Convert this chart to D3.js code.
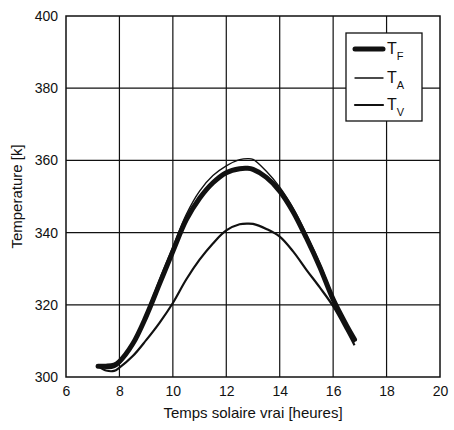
<!DOCTYPE html>
<html><head><meta charset="utf-8">
<script src="https://cdn.jsdelivr.net/npm/d3@7"></script>
<style>body{margin:0;background:#fff}svg{display:block}text,tspan{font-family:"Liberation Sans",Arial,sans-serif;fill:#111}</style>
</head><body>
<svg id="c" width="454" height="430"></svg>
<script>
const hours = [7.2, 7.5, 7.8, 8, 8.5, 9, 9.5, 10, 10.5, 11, 11.5, 12, 12.5, 12.8, 13, 13.5, 14, 14.5, 15, 15.5, 16, 16.5, 16.8];
const TF = [303, 303, 303.3, 304.3, 309.2, 316.8, 325.8, 334.8, 343.5, 349.5, 353.8, 356.6, 357.7, 357.8, 357.5, 355.3, 351.5, 345.8, 338.5, 330.5, 321.5, 314.3, 310.4];
const TA = [303, 302.4, 302.6, 303.6, 309.2, 317.5, 327, 336, 345, 351.5, 355.8, 358.5, 360.2, 360.5, 360.3, 357, 352.6, 346.8, 339.5, 331.5, 322.2, 314, 309.6];
const TV = [303, 301.8, 301.7, 302.6, 305.8, 310.2, 315, 320.5, 327, 332.5, 337, 340.6, 342.3, 342.5, 342.4, 341, 338.9, 334.8, 329.7, 324.8, 319.6, 313, 308.8];
const xTicks = [6, 8, 10, 12, 14, 16, 18, 20];
const yTicks = [300, 320, 340, 360, 380, 400];
const seriesNames = ["F", "A", "V"];

const svg = d3.select("#c");
const m = {l: 66, r: 14, t: 16, b: 53};
const W = 454, H = 430;
const x = d3.scaleLinear().domain([6, 20]).range([m.l, W - m.r]);
const y = d3.scaleLinear().domain([300, 400]).range([H - m.b, m.t]);

// grid
svg.append("g").selectAll("line").data(xTicks.slice(1, -1)).join("line")
  .attr("x1", d => x(d)).attr("x2", d => x(d)).attr("y1", y(300)).attr("y2", y(400))
  .attr("stroke", "#111").attr("stroke-width", 1.2);
svg.append("g").selectAll("line").data(yTicks.slice(1, -1)).join("line")
  .attr("y1", d => y(d)).attr("y2", d => y(d)).attr("x1", x(6)).attr("x2", x(20))
  .attr("stroke", "#111").attr("stroke-width", 1.2);

// axes
const xa = svg.append("g").attr("transform", `translate(0,${y(300)})`)
  .call(d3.axisBottom(x).tickValues(xTicks).tickSize(0).tickPadding(9));
const ya = svg.append("g").attr("transform", `translate(${x(6)},0)`)
  .call(d3.axisLeft(y).tickValues(yTicks).tickSize(0).tickPadding(8));
[xa, ya].forEach(a => { a.select(".domain").remove(); a.selectAll("text").attr("font-size", 14).attr("fill", "#111"); });

svg.append("rect").attr("x", x(6)).attr("y", y(400)).attr("width", x(20) - x(6)).attr("height", y(300) - y(400))
  .attr("fill", "none").attr("stroke", "#111").attr("stroke-width", 1.5);

const line = d3.line().curve(d3.curveCatmullRom.alpha(0.5));
const mk = vals => line(hours.map((h, i) => [x(h), y(vals[i])]));
svg.append("path").attr("d", mk(TV)).attr("fill", "none").attr("stroke", "#111").attr("stroke-width", 2.2);
svg.append("path").attr("d", mk(TF)).attr("fill", "none").attr("stroke", "#111").attr("stroke-width", 5).attr("stroke-linecap", "round");
svg.append("path").attr("d", mk(TA)).attr("fill", "none").attr("stroke", "#111").attr("stroke-width", 1.4);

// legend
const lg = svg.append("g").attr("transform", "translate(346,33)");
lg.append("rect").attr("width", 76).attr("height", 88).attr("fill", "#fff").attr("stroke", "#111").attr("stroke-width", 1.3);
const widths = [5, 1.4, 2.2];
const ly = [16, 45, 72];
seriesNames.forEach((s, i) => {
  lg.append("line").attr("x1", 9).attr("x2", 37).attr("y1", ly[i]).attr("y2", ly[i])
    .attr("stroke", "#111").attr("stroke-width", widths[i]).attr("stroke-linecap", "round");
  const t = lg.append("text").attr("x", 41).attr("y", ly[i] + 5).attr("font-size", 16).attr("fill", "#111");
  t.append("tspan").attr("fill", "#111").text("T");
  t.append("tspan").attr("fill", "#111").attr("font-size", 11).attr("dy", 6).text(s);
});

// titles
svg.append("text").attr("x", (x(6) + x(20)) / 2).attr("y", 418).attr("text-anchor", "middle").attr("font-size", 15).text("Temps solaire vrai [heures]");
svg.append("text").attr("transform", `translate(22,${(y(300) + y(400)) / 2}) rotate(-90)`).attr("text-anchor", "middle").attr("font-size", 15).text("Temperature [k]");
</script>
</body></html>
